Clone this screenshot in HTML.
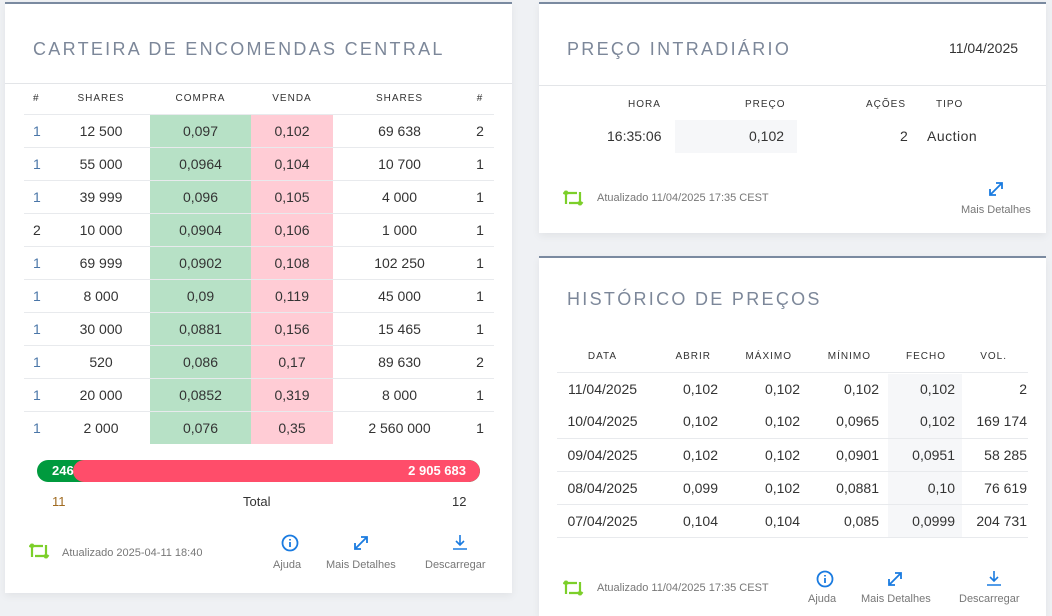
<!DOCTYPE html>
<html><head><meta charset="utf-8"><style>
*{margin:0;padding:0;box-sizing:border-box}
body{width:1052px;height:612px;background:#eff1f4;font-family:"Liberation Sans",sans-serif;color:#333;position:relative;overflow:hidden}
.card{position:absolute;background:#fff;border-top:2px solid #7a8aa0;box-shadow:0 3px 8px rgba(0,0,0,.06)}
.title{position:absolute;font-size:18px;letter-spacing:2.3px;color:#7c8799}
.sep{position:absolute;left:0;right:0;height:1px;background:#e3e5e8}
.a{position:absolute;white-space:nowrap}
table{border-collapse:collapse;position:absolute;table-layout:fixed}
th{font-size:10px;font-weight:normal;letter-spacing:1px;color:#333;height:30px}
td{font-size:14px;color:#333;height:33px;border-top:1px solid #e8eaed}
.g{background:#b7e1c6}.p{background:#ffccd5}
.sm{font-size:11px;color:#777}
</style></head><body>
<svg width="0" height="0" style="position:absolute">
 <defs>
  <g id="rf" fill="none" stroke="#7ccf2a" stroke-width="2.2"><path d="M3 16V5h11M3 3l-2.5 3M3 3l2.5 3"/><path d="M17 4v11H6M17 17l-2.5-3M17 17l2.5-3"/></g>
  <g id="inf" fill="none" stroke="#1a7be0" stroke-width="1.8"><circle cx="9" cy="9" r="7.5"/><path d="M9 8v5M9 5v1.5"/></g>
  <g id="ex" fill="none" stroke="#1a7be0" stroke-width="1.8"><path d="M3 15L15 3M9 3h6v6M3 9v6h6"/></g>
  <g id="dl" fill="none" stroke="#1a7be0" stroke-width="1.6"><path d="M9 1v10M5 7l4 4 4-4M2 15h14"/></g>
 </defs>
</svg>

<div class="card" style="left:5px;top:2px;width:507px;height:591px">
 <div class="title" style="left:28px;top:35px">CARTEIRA DE ENCOMENDAS CENTRAL</div>
 <div class="sep" style="top:79px"></div>
 <table style="left:19px;top:80px;width:470px">
  <colgroup><col style="width:28px"><col style="width:98px"><col style="width:101px"><col style="width:82px"><col style="width:133px"><col style="width:28px"></colgroup>
  <tr><th style="text-align:left;padding-left:9px;height:27px">#</th><th style="height:27px">SHARES</th><th>COMPRA</th><th>VENDA</th><th>SHARES</th><th>#</th></tr>
  <tr><td style="color:#4a76a8;padding-left:9px">1</td><td align=center>12 500</td><td class=g align=center>0,097</td><td class=p align=center>0,102</td><td align=center>69 638</td><td align=center>2</td></tr>
  <tr><td style="color:#4a76a8;padding-left:9px">1</td><td align=center>55 000</td><td class=g align=center>0,0964</td><td class=p align=center>0,104</td><td align=center>10 700</td><td align=center>1</td></tr>
  <tr><td style="color:#4a76a8;padding-left:9px">1</td><td align=center>39 999</td><td class=g align=center>0,096</td><td class=p align=center>0,105</td><td align=center>4 000</td><td align=center>1</td></tr>
  <tr><td style="padding-left:9px">2</td><td align=center>10 000</td><td class=g align=center>0,0904</td><td class=p align=center>0,106</td><td align=center>1 000</td><td align=center>1</td></tr>
  <tr><td style="color:#4a76a8;padding-left:9px">1</td><td align=center>69 999</td><td class=g align=center>0,0902</td><td class=p align=center>0,108</td><td align=center>102 250</td><td align=center>1</td></tr>
  <tr><td style="color:#4a76a8;padding-left:9px">1</td><td align=center>8 000</td><td class=g align=center>0,09</td><td class=p align=center>0,119</td><td align=center>45 000</td><td align=center>1</td></tr>
  <tr><td style="color:#4a76a8;padding-left:9px">1</td><td align=center>30 000</td><td class=g align=center>0,0881</td><td class=p align=center>0,156</td><td align=center>15 465</td><td align=center>1</td></tr>
  <tr><td style="color:#4a76a8;padding-left:9px">1</td><td align=center>520</td><td class=g align=center>0,086</td><td class=p align=center>0,17</td><td align=center>89 630</td><td align=center>2</td></tr>
  <tr><td style="color:#4a76a8;padding-left:9px">1</td><td align=center>20 000</td><td class=g align=center>0,0852</td><td class=p align=center>0,319</td><td align=center>8 000</td><td align=center>1</td></tr>
  <tr><td style="color:#4a76a8;padding-left:9px">1</td><td align=center>2 000</td><td class=g align=center>0,076</td><td class=p align=center>0,35</td><td align=center>2 560 000</td><td align=center>1</td></tr>
 </table>
 <div class="a" style="left:32px;top:456px;width:443px;height:22px;border-radius:11px;background:#009a3e;overflow:hidden">
  <div class="a" style="left:36px;top:0;right:0;height:22px;border-radius:11px;background:#ff4d6a"></div>
  <div class="a" style="left:15px;top:3px;color:#fff;font-weight:bold;font-size:13px">246</div>
  <div class="a" style="right:14px;top:3px;color:#fff;font-weight:bold;font-size:13px;background:#ff4d6a">2 905 683</div>
 </div>
 <div class="a" style="left:47px;top:490px;font-size:13px;color:#a06a20">11</div>
 <div class="a" style="left:238px;top:490px;font-size:13px">Total</div>
 <div class="a" style="left:447px;top:490px;font-size:13px">12</div>
 <svg class="a" style="left:24px;top:537px" width="22" height="20"><use href="#rf"/></svg>
 <div class="a sm" style="left:57px;top:543px">Atualizado 2025-04-11 18:40</div>
 <svg class="a" style="left:276px;top:530px" width="18" height="18"><use href="#inf"/></svg><div class="a sm" style="left:268px;top:555px">Ajuda</div>
 <svg class="a" style="left:347px;top:530px" width="18" height="18"><use href="#ex"/></svg><div class="a sm" style="left:321px;top:555px">Mais Detalhes</div>
 <svg class="a" style="left:446px;top:530px" width="18" height="18"><use href="#dl"/></svg><div class="a sm" style="left:420px;top:555px">Descarregar</div>
</div>

<div class="card" style="left:539px;top:2px;width:507px;height:231px">
 <div class="title" style="left:28px;top:35px">PREÇO INTRADIÁRIO</div>
 <div class="a" style="left:410px;top:36px;font-size:14px">11/04/2025</div>
 <div class="sep" style="top:81px"></div>
 <div class="a" style="left:89px;top:95px;font-size:10px;letter-spacing:1px">HORA</div>
 <div class="a" style="left:206px;top:95px;font-size:10px;letter-spacing:1px">PREÇO</div>
 <div class="a" style="left:327px;top:95px;font-size:10px;letter-spacing:1px">AÇÕES</div>
 <div class="a" style="left:397px;top:95px;font-size:10px;letter-spacing:1px">TIPO</div>
 <div class="a" style="left:136px;top:116px;width:122px;height:33px;background:#f6f7f9"></div>
 <div class="a" style="left:68px;top:124px;font-size:14px">16:35:06</div>
 <div class="a" style="left:210px;top:124px;font-size:14px">0,102</div>
 <div class="a" style="left:361px;top:124px;font-size:14px">2</div>
 <div class="a" style="left:388px;top:124px;font-size:14px;letter-spacing:.5px">Auction</div>
 <svg class="a" style="left:24px;top:184px" width="22" height="20"><use href="#rf"/></svg>
 <div class="a sm" style="left:58px;top:188px">Atualizado 11/04/2025 17:35 CEST</div>
 <svg class="a" style="left:448px;top:176px" width="18" height="18"><use href="#ex"/></svg><div class="a sm" style="left:422px;top:200px">Mais Detalhes</div>
</div>

<div class="card" style="left:539px;top:256px;width:507px;height:360px">
 <div class="title" style="left:28px;top:31px">HISTÓRICO DE PREÇOS</div>
 <div class="a" style="left:349px;top:116px;width:74px;height:164px;background:#f6f7f9"></div>
 <table style="left:18px;top:84px;width:471px">
  <colgroup><col style="width:91px"><col style="width:74px"><col style="width:82px"><col style="width:84px"><col style="width:74px"><col style="width:66px"></colgroup>
  <tr><th>DATA</th><th align=right style="padding-right:11px">ABRIR</th><th align=right style="padding-right:12px">MÁXIMO</th><th align=right style="padding-right:17px">MÍNIMO</th><th align=right style="padding-right:16px">FECHO</th><th align=right style="padding-right:21px">VOL.</th></tr>
  <tr><td align=center>11/04/2025</td><td align=right style="padding-right:4px">0,102</td><td align=right style="padding-right:4px">0,102</td><td align=right style="padding-right:9px">0,102</td><td align=right style="padding-right:7px">0,102</td><td align=right style="padding-right:1px">2</td></tr>
  <tr><td align=center style="border-top:0">10/04/2025</td><td align=right style="padding-right:4px;border-top:0">0,102</td><td align=right style="padding-right:4px;border-top:0">0,102</td><td align=right style="padding-right:9px;border-top:0">0,0965</td><td align=right style="padding-right:7px;border-top:0">0,102</td><td align=right style="padding-right:1px;border-top:0">169 174</td></tr>
  <tr><td align=center>09/04/2025</td><td align=right style="padding-right:4px">0,102</td><td align=right style="padding-right:4px">0,102</td><td align=right style="padding-right:9px">0,0901</td><td align=right style="padding-right:7px">0,0951</td><td align=right style="padding-right:1px">58 285</td></tr>
  <tr><td align=center>08/04/2025</td><td align=right style="padding-right:4px">0,099</td><td align=right style="padding-right:4px">0,102</td><td align=right style="padding-right:9px">0,0881</td><td align=right style="padding-right:7px">0,10</td><td align=right style="padding-right:1px">76 619</td></tr>
  <tr><td align=center style="border-bottom:1px solid #e8eaed">07/04/2025</td><td align=right style="padding-right:4px;border-bottom:1px solid #e8eaed">0,104</td><td align=right style="padding-right:4px;border-bottom:1px solid #e8eaed">0,104</td><td align=right style="padding-right:9px;border-bottom:1px solid #e8eaed">0,085</td><td align=right style="padding-right:7px;border-bottom:1px solid #e8eaed">0,0999</td><td align=right style="padding-right:1px;border-bottom:1px solid #e8eaed">204 731</td></tr>
 </table>
 <svg class="a" style="left:24px;top:320px" width="22" height="20"><use href="#rf"/></svg>
 <div class="a sm" style="left:58px;top:324px">Atualizado 11/04/2025 17:35 CEST</div>
 <svg class="a" style="left:277px;top:312px" width="18" height="18"><use href="#inf"/></svg><div class="a sm" style="left:269px;top:335px">Ajuda</div>
 <svg class="a" style="left:347px;top:312px" width="18" height="18"><use href="#ex"/></svg><div class="a sm" style="left:322px;top:335px">Mais Detalhes</div>
 <svg class="a" style="left:446px;top:312px" width="18" height="18"><use href="#dl"/></svg><div class="a sm" style="left:420px;top:335px">Descarregar</div>
</div>
</body></html>
